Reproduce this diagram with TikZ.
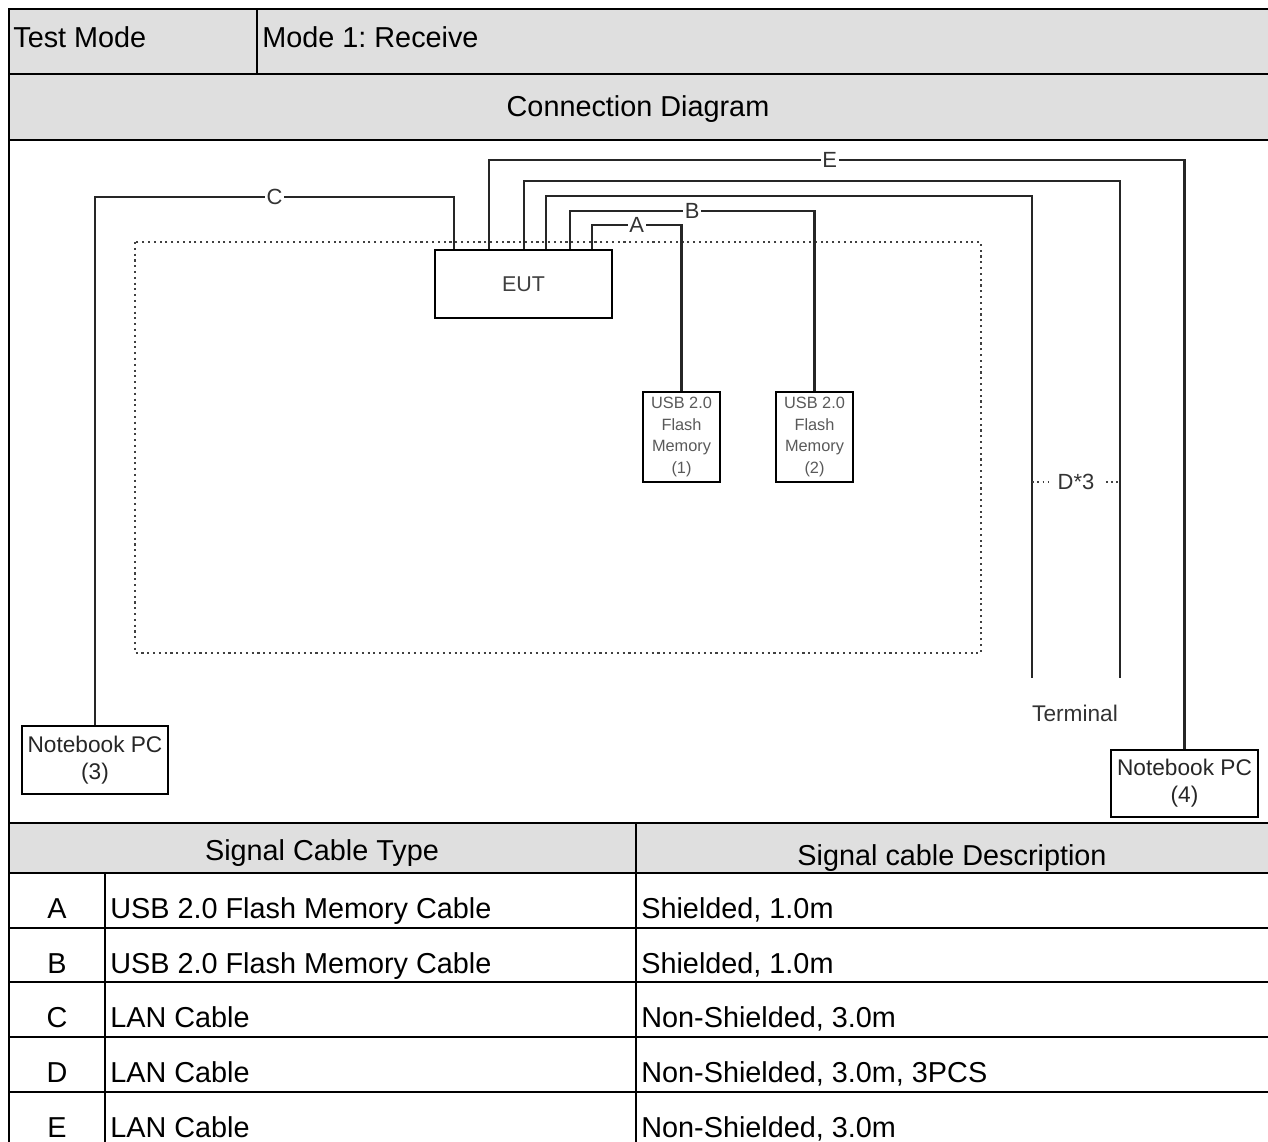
\documentclass[tikz,border=0pt]{standalone}
\usepackage{fontspec}
\setmainfont{Liberation Sans}
\usepackage{tikz}
\frenchspacing

\tikzset{
  unit/.style={draw, line width=1.4pt, inner sep=0pt, align=center, text=black!85},
  cable/.style={line width=1.4pt, black!85},
  clabel/.style={fill=white, inner sep=1pt, font=\fontsize{12.5}{14}\selectfont, text=black!80},
  grid/.style={line width=1.2pt},
  cell/.style={anchor=base west, inner sep=0pt, font=\fontsize{16.4}{19}\selectfont},
}

\begin{document}
\begin{tikzpicture}[x=0.02cm,y=-0.02cm]
 \useasboundingbox (0,0) rectangle (1268,1142);
 % table
 \fill[gray!25] (9,9) rectangle (1268,140);
 \fill[gray!25] (9,823) rectangle (1268,873);
 \draw[line width=1.7pt] (9,1142) -- (9,9) -- (1268,9);
 \draw[grid] (257,9) -- (257,74);
 \draw[grid] (9,74) -- (1268,74);
 \draw[grid] (9,140) -- (1268,140);
 \draw[line width=1.7pt] (9,823) -- (1268,823);
 \draw[grid] (9,873) -- (1268,873);
 \draw[grid] (9,928) -- (1268,928);
 \draw[grid] (9,982) -- (1268,982);
 \draw[grid] (9,1037) -- (1268,1037);
 \draw[grid] (9,1092) -- (1268,1092);
 \draw[grid] (636,823) -- (636,1142);
 \draw[grid] (105,873) -- (105,1142);
 \node[cell] (tm) at (13,48) {Test Mode};
 \node[cell] (mode) at (262,48) {Mode 1: Receive};
 \node[cell,anchor=base] (cd) at (638,117) {Connection Diagram};
 \node[cell,anchor=base] (sct) at (322,860) {Signal Cable Type};
 \node[cell,anchor=base] (scd) at (952,865) {Signal cable Description};
 \node[cell,anchor=base] (ta) at (57,918) {A};
 \node[cell] (tya) at (110,918) {USB 2.0 Flash Memory Cable};
 \node[cell] (dsa) at (641,918) {Shielded, 1.0m};
 \node[cell,anchor=base] (tb) at (57,973) {B};
 \node[cell] (tyb) at (110,973) {USB 2.0 Flash Memory Cable};
 \node[cell] (dsb) at (641,973) {Shielded, 1.0m};
 \node[cell,anchor=base] (tc) at (57,1027) {C};
 \node[cell] (tyc) at (110,1027) {LAN Cable};
 \node[cell] (dsc) at (641,1027) {Non-Shielded, 3.0m};
 \node[cell,anchor=base] (td) at (57,1082) {D};
 \node[cell] (tyd) at (110,1082) {LAN Cable};
 \node[cell] (dsd) at (641,1082) {Non-Shielded, 3.0m, 3PCS};
 \node[cell,anchor=base] (te) at (57,1137) {E};
 \node[cell] (tye) at (110,1137) {LAN Cable};
 \node[cell] (dse) at (641,1137) {Non-Shielded, 3.0m};

 % connection diagram
 \draw[line width=1.3pt,dash pattern=on 1.2pt off 2.1pt,black!75] (135,242) rectangle (981,653);
 \node[unit,minimum width=3.54cm,minimum height=1.36cm,font=\fontsize{12.2}{14}\selectfont,text=black!75] (eut) at (523.5,284) {EUT};
 \node[unit,minimum width=1.54cm,minimum height=1.8cm,font=\fontsize{9.3}{12.2}\selectfont,text=black!65] (usb1) at (681.5,437) {USB 2.0\\Flash\\Memory\\(1)};
 \node[unit,minimum width=1.54cm,minimum height=1.8cm,font=\fontsize{9.3}{12.2}\selectfont,text=black!65] (usb2) at (814.5,437) {USB 2.0\\Flash\\Memory\\(2)};
 \node[unit,minimum width=2.92cm,minimum height=1.36cm,font=\fontsize{12.9}{15.3}\selectfont] (nb3) at (95,760) {Notebook PC\\(3)};
 \node[unit,minimum width=2.94cm,minimum height=1.34cm,font=\fontsize{12.9}{15.3}\selectfont] (nb4) at (1184.5,783.5) {Notebook PC\\(4)};
 \node[font=\fontsize{12.9}{15}\selectfont,text=black!80] (term) at (1075,713) {Terminal};
 \coordinate (d1) at (1120,678);
 \coordinate (d2) at (1032,678);

 \draw[cable] (eut.north -| 592,0) -- (592,225) -- node[clabel]{A} (usb1.north |- 0,225) -- (usb1.north);
 \draw[cable] (eut.north -| 570,0) -- (570,211) -- node[clabel]{B} (usb2.north |- 0,211) -- (usb2.north);
 \draw[cable] (eut.north -| 454,0) -- (454,197) -- node[clabel]{C} (nb3.north |- 0,197) -- (nb3.north);
 \draw[cable] (eut.north -| 524,0) -- (524,181) -- (d1 |- 0,181) -- (d1);
 \draw[cable] (eut.north -| 546,0) -- (546,196) -- (d2 |- 0,196) -- (d2);
 \draw[cable] (eut.north -| 489,0) -- (489,160) -- node[clabel,pos=0.49]{E} (nb4.north |- 0,160) -- (nb4.north);
 \draw[line width=1pt,dash pattern=on 1pt off 2pt,black!75] (d2 |- 0,482) -- node[clabel,inner xsep=5pt]{D*3} (d1 |- 0,482);
\end{tikzpicture}
\end{document}
